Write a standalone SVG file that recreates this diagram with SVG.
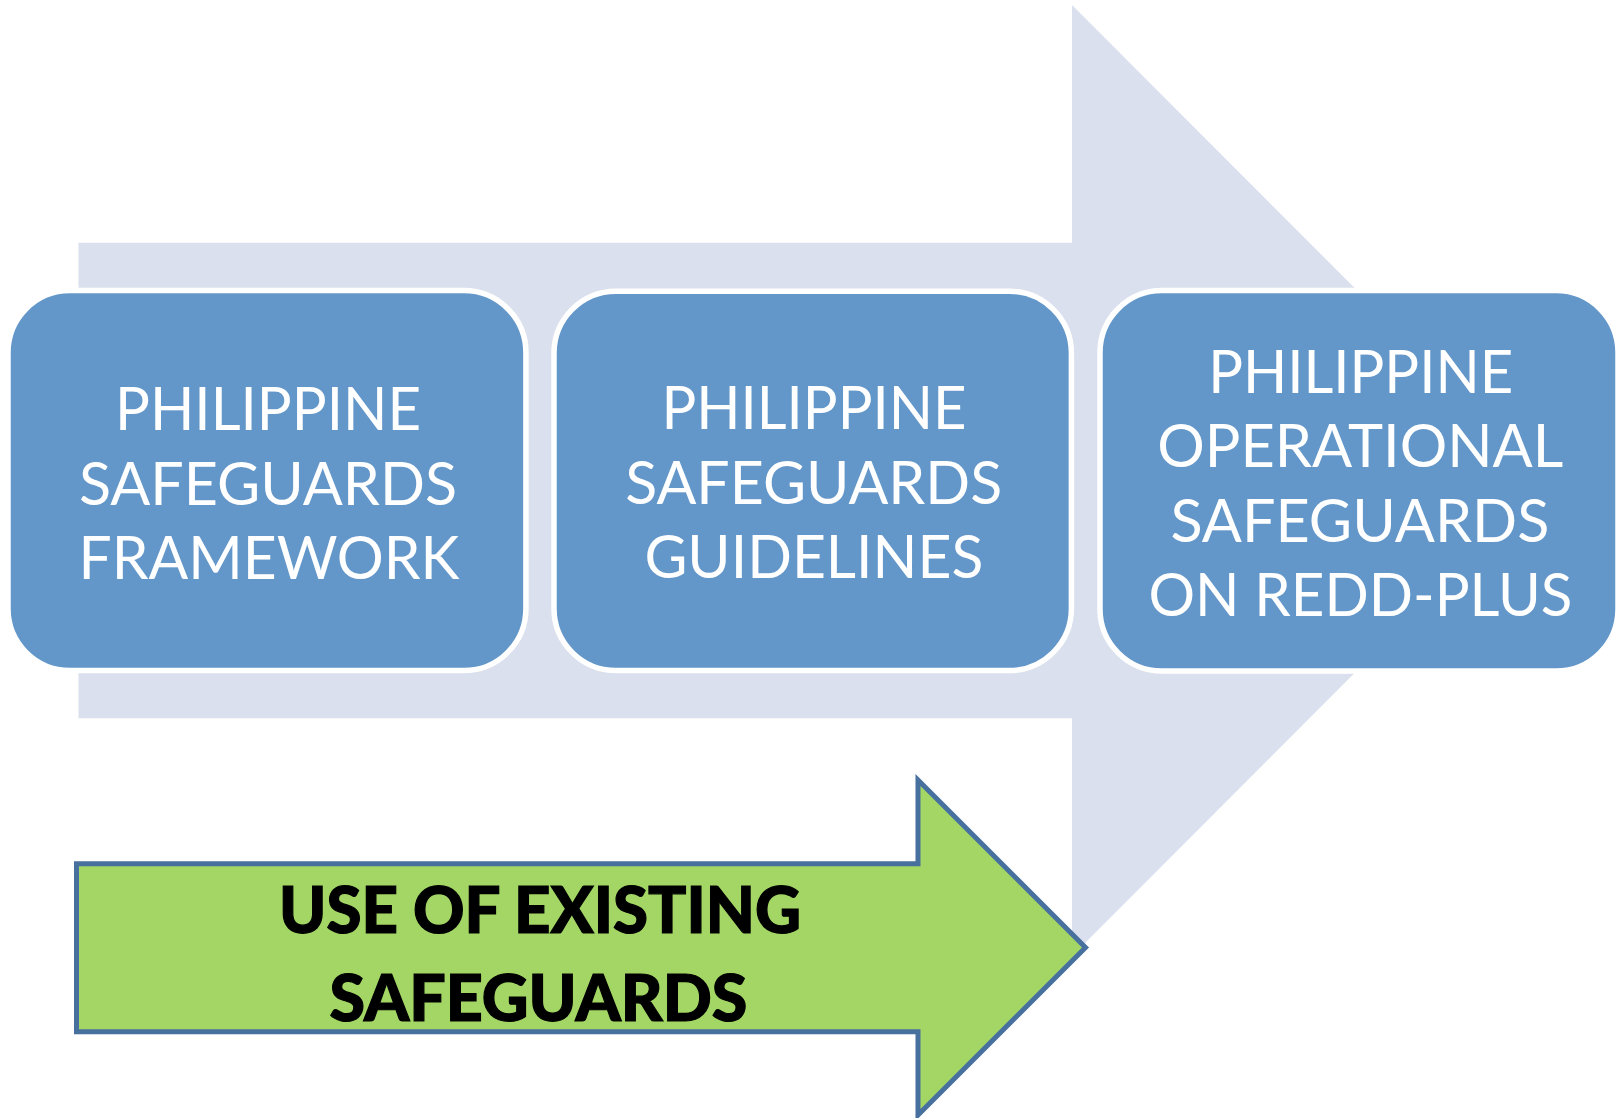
<svg xmlns="http://www.w3.org/2000/svg" width="1619" height="1118" viewBox="0 0 1619 1118">
  <style>
    .box { fill: #6397c9; stroke: #ffffff; stroke-width: 5.5; }
    .boxtext { font-family: Lato, "Open Sans", "Liberation Sans", sans-serif; font-size: 60px; fill: #ffffff; text-anchor: middle; }
    .arrowtext { font-family: Lato, "Open Sans", "Liberation Sans", sans-serif; font-weight: 900; font-size: 65px; fill: #000000; stroke: #000000; stroke-width: 1.2; text-anchor: middle; }
  </style>
  <rect width="1619" height="1118" fill="#ffffff"/>

  <!-- background process arrow -->
  <g id="backdrop-arrow">
    <polygon points="78.5,242.7 1072,242.7 1072,5 1547,480.5 1072,956 1072,718.3 78.5,718.3" fill="#dae0ed"/>
  </g>

  <!-- step boxes -->
  <g id="step-framework">
    <rect class="box" x="8" y="290.6" width="517.9" height="379.9" rx="62" ry="62"/>
    <text class="boxtext" x="268" y="430" textLength="306" lengthAdjust="spacingAndGlyphs">PHILIPPINE</text>
    <text class="boxtext" x="268" y="505" textLength="378" lengthAdjust="spacingAndGlyphs">SAFEGUARDS</text>
    <text class="boxtext" x="269" y="579.3" textLength="381" lengthAdjust="spacingAndGlyphs">FRAMEWORK</text>
  </g>

  <g id="step-guidelines">
    <rect class="box" x="554" y="291.2" width="517.4" height="379.3" rx="62" ry="62"/>
    <text class="boxtext" x="814" y="429.3" textLength="305" lengthAdjust="spacingAndGlyphs">PHILIPPINE</text>
    <text class="boxtext" x="813.7" y="504.3" textLength="377" lengthAdjust="spacingAndGlyphs">SAFEGUARDS</text>
    <text class="boxtext" x="813.9" y="578.3" textLength="339" lengthAdjust="spacingAndGlyphs">GUIDELINES</text>
  </g>

  <g id="step-operational">
    <rect class="box" x="1100" y="290.6" width="518" height="380.4" rx="62" ry="62"/>
    <text class="boxtext" x="1360.7" y="392.7" textLength="305" lengthAdjust="spacingAndGlyphs">PHILIPPINE</text>
    <text class="boxtext" x="1360.3" y="466.7" textLength="406" lengthAdjust="spacingAndGlyphs">OPERATIONAL</text>
    <text class="boxtext" x="1359.9" y="541.7" textLength="379" lengthAdjust="spacingAndGlyphs">SAFEGUARDS</text>
    <text class="boxtext" x="1360.4" y="616" textLength="424" lengthAdjust="spacingAndGlyphs">ON REDD-PLUS</text>
  </g>

  <!-- foreground arrow with label -->
  <g id="existing-safeguards">
    <polygon points="76.5,863.8 918,863.8 918,780 1085.5,947.5 918,1115 918,1031.8 76.5,1031.8" fill="#a3d665" stroke="#47709f" stroke-width="5"/>
    <text class="arrowtext" x="540" y="932.7" textLength="522" lengthAdjust="spacingAndGlyphs">USE OF EXISTING</text>
    <text class="arrowtext" x="538.4" y="1021" textLength="418" lengthAdjust="spacingAndGlyphs">SAFEGUARDS</text>
  </g>
</svg>
